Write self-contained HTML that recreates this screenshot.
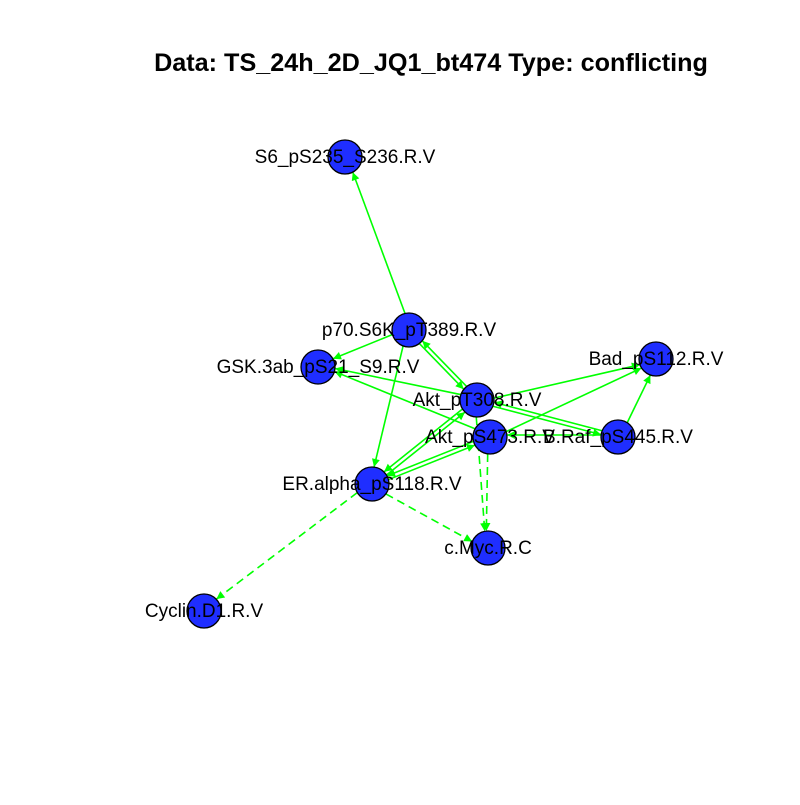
<!DOCTYPE html>
<html><head><meta charset="utf-8"><style>
body{margin:0;background:#fff}
svg text{font-family:"Liberation Sans",sans-serif}
</style></head><body>
<svg id="c" width="800" height="800">
<defs><marker id="ah" viewBox="0 0 10 10" refX="10" refY="5" markerWidth="11" markerHeight="8" orient="auto" markerUnits="userSpaceOnUse"><path d="M0,0L10,5L0,10z" fill="#00ff00"/></marker></defs>
<rect width="800" height="800" fill="#fff"/>
<text x="431" y="71" text-anchor="middle" font-size="25.2" font-weight="bold">Data: TS_24h_2D_JQ1_bt474 Type: conflicting</text>
<g id="edges"></g><g id="nodes"></g>
</svg>
<script>
const nodeNames=["S6_pS235_S236.R.V","p70.S6K_pT389.R.V","GSK.3ab_pS21_S9.R.V","Bad_pS112.R.V","Akt_pT308.R.V","Akt_pS473.R.V","B.Raf_pS445.R.V","ER.alpha_pS118.R.V","c.Myc.R.C","Cyclin.D1.R.V"];
const nodeX=[345,409,318,656,477,490,618,372,488,204];
const nodeY=[157,330,367,359,400,437,437,484,548,611];
const edgeFrom=[1,1,1,1,4,4,5,4,5,6,6,4,6,4,7,7,5,4,5,7,7];
const edgeTo  =[0,2,7,4,1,2,2,3,3,3,4,6,5,7,4,5,7,8,8,8,9];
const edgeDash=[0,0,0,0,0,0,0,0,0,0,0,0,0,0,0,0,0,1,1,1,1];
const ns="http://www.w3.org/2000/svg";
const eg=document.getElementById('edges'),ng=document.getElementById('nodes');
const R=17;
edgeFrom.forEach((f,i)=>{
 const t=edgeTo[i];
 let x1=nodeX[f],y1=nodeY[f],x2=nodeX[t],y2=nodeY[t];
 const dx=x2-x1,dy=y2-y1,d=Math.hypot(dx,dy);
 const ox=-dy/d*2,oy=dx/d*2;
 const l=document.createElementNS(ns,'line');
 l.setAttribute('x1',x1+dx/d*R+ox);l.setAttribute('y1',y1+dy/d*R+oy);
 l.setAttribute('x2',x2-dx/d*R+ox);l.setAttribute('y2',y2-dy/d*R+oy);
 l.setAttribute('stroke','#00ff00');l.setAttribute('stroke-width','1.6');
 if(edgeDash[i])l.setAttribute('stroke-dasharray','8,5');
 l.setAttribute('marker-end','url(#ah)');
 
 
 eg.appendChild(l);
});
nodeNames.forEach((n,i)=>{
 const c=document.createElementNS(ns,'circle');
 c.setAttribute('cx',nodeX[i]);c.setAttribute('cy',nodeY[i]);c.setAttribute('r',R);
 c.setAttribute('fill','#1f2eff');c.setAttribute('stroke','#000');c.setAttribute('stroke-width','1.3');
 
 
 ng.appendChild(c);
});
nodeNames.forEach((n,i)=>{
 const t=document.createElementNS(ns,'text');
 t.setAttribute('x',nodeX[i]);t.setAttribute('y',nodeY[i]+6);
 t.setAttribute('text-anchor','middle');t.setAttribute('font-size','19');
 t.textContent=n;
 
 
 ng.appendChild(t);
});
</script>
</body></html>
